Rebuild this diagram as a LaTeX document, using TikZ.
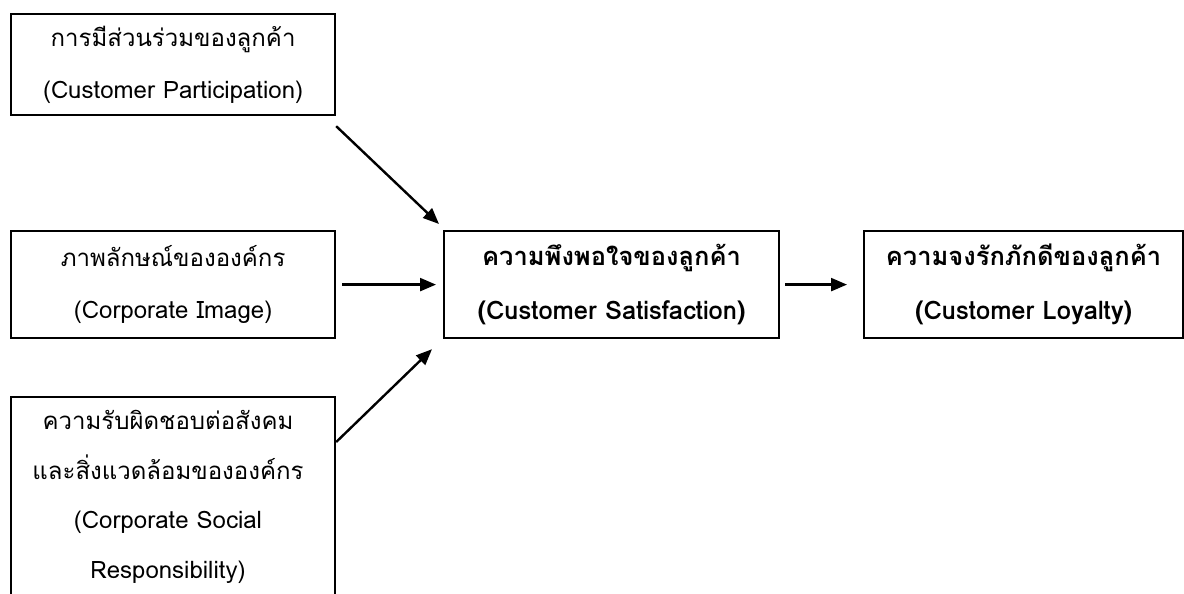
\documentclass[tikz,border=0pt]{standalone}
\usepackage{fontspec}
\newfontfamily\thaifont[Script=Thai]{Loma}
\usetikzlibrary{arrows.meta,calc}
\tikzset{
  box/.style={draw,line width=2.2pt,inner sep=0pt,anchor=north west,align=center,
    font=\thaifont\fontsize{24}{52}\selectfont},
  keybox/.style={box,font=\thaifont\bfseries\fontsize{25.5}{54}\selectfont},
  link/.style={line width=2.4pt,-{Triangle[length=16pt,width=13pt]}}
}

\begin{document}
\begin{tikzpicture}[x=1pt,y=-1pt]
            \useasboundingbox (0,0) rectangle (1184,594);
            \node[box,minimum width=324pt,minimum height=101pt] (part) at (10,13)
              {การมีส่วนร่วมของลูกค้า\\(Customer Participation)};
            \node[box,minimum width=324pt,minimum height=107pt] (image) at (10,230)
              {ภาพลักษณ์ขององค์กร\\(Corporate Image)};
            \node[box,minimum width=324pt,minimum height=215pt] (csr) at (10,396) {};
            \node[align=center,font=\thaifont\fontsize{24}{49.5}\selectfont] (csrtext) at (168,497)
              {ความรับผิดชอบต่อสังคม\\และสิ่งแวดล้อมขององค์กร\\(Corporate Social\\Responsibility)};
            \node[keybox,minimum width=335pt,minimum height=107pt] (sat) at (443,230)
              {ความพึงพอใจของลูกค้า\\(Customer Satisfaction)};
            \node[keybox,minimum width=319pt,minimum height=107pt] (loyal) at (863,230)
              {ความจงรักภักดีของลูกค้า\\(Customer Loyalty)};
            % arrows into satisfaction
            \draw[link] ($(part.south east)+(0,10)$) -- ($(sat.north west)+(-4,-6)$);
            \draw[link] ($(image.east)+(6,0)$) -- ($(sat.west)+(-7,0)$);
            \draw[link] ($(csr.north east)+(0,46)$) -- ($(sat.south west)+(-11,10)$);
            \draw[link] ($(sat.east)+(5,0)$) -- ($(loyal.west)+(-16,0)$);
          \end{tikzpicture}
\end{document}
